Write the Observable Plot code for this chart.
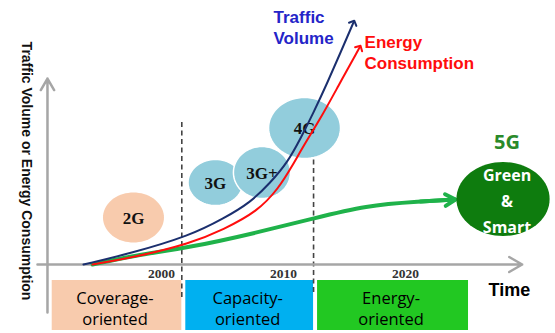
<!DOCTYPE html>
<html>
<head>
<meta charset="utf-8">
<script src="https://cdn.jsdelivr.net/npm/d3@7"></script>
<script src="https://cdn.jsdelivr.net/npm/@observablehq/plot@0.6"></script>
<style>
  html, body { margin: 0; padding: 0; background: #fff; }
  #chart svg { display: block; }
</style>
</head>
<body>
<div id="chart"></div>
<script>
// Growth of mobile traffic and energy use across network generations.

// Traffic volume curve (year, relative level)
const trafficYear  = [1993.44, 1997.30, 2002.21, 2004.92, 2007.13, 2008.77, 2010.16, 2011.23, 2012.30, 2013.44, 2014.51, 2015.57];
const trafficLevel = [0, 5.5, 14.5, 23, 31, 41, 51, 63, 76, 91, 106, 121];

// Energy consumption curve
const energyYear  = [1994.18, 1997.54, 2002.21, 2004.92, 2007.70, 2009.43, 2010.57, 2011.64, 2012.87, 2014.26, 2016.07];
const energyLevel = [0, 3.5, 10.5, 17.5, 26.5, 38, 49.5, 61, 73, 88.5, 108.5];

// Green (5G) energy path
const greenYear  = [1994.18, 1997.54, 2002.21, 2007.70, 2012.30, 2016.56, 2021.07, 2023.93];
const greenLevel = [0, 4.5, 8.5, 16, 23, 29.5, 31.5, 32.5];

// Network generations: centre (year, level) and half-extent (years, level)
const generations  = ["2G", "3G", "3G+", "4G"];
const genYear      = [1997.54, 2004.26, 2008.07, 2011.56];
const genLevel     = [23.5, 41, 46, 68.25];
const genSpanYears = [2.5, 2.25, 2.34, 2.95];
const genSpanLevel = [12.5, 11.5, 13, 15.25];

const nextGen = "5G";
const nextGenText = "Green\n&\nSmart";
const nextGenYear = 2027.83, nextGenLevel = 32.75, nextGenSpanYears = 3.82, nextGenSpanLevel = 18.5;

// Eras along the time axis
const eraNames = ["Coverage-\noriented", "Capacity-\noriented", "Energy-\noriented"];
const eraStart = [1990.55, 2001.5, 2012.3];
const eraEnd   = [2001.5, 2012.3, 2025.0];

const tickYears = [2000, 2010, 2020];

// ---- styling ----
const eraFill = ["#F8CBAD", "#00B0F0", "#22C822"];
const genFill = {"2G": "#F8CBAD", "3G": "#92CDDC", "3G+": "#92CDDC", "4G": "#92CDDC"};
const navy = "#1B2F6E", red = "#FF0D0D", green = "#1FB24A", darkGreen = "#0E7C0E";
const axisGray = "#A6A6A6";

// ---- derived tables ----
const eras = eraNames.map((name, i) => ({name, start: eraStart[i], end: eraEnd[i], fill: eraFill[i]}));
const series = (xs, ys) => xs.map((x, i) => ({year: x, level: ys[i]}));
const traffic = series(trafficYear, trafficLevel);
const energy  = series(energyYear, energyLevel);
const greenPath = series(greenYear, greenLevel);

const bubbles = generations.map((gen, i) => ({
  gen, year: genYear[i], level: genLevel[i], rx: genSpanYears[i], ry: genSpanLevel[i], fill: genFill[gen]
}));

// Outline of an ellipse in data space, for a filled closed line
function outline(b) {
  return d3.range(72).map(k => {
    const t = (2 * Math.PI * k) / 72;
    return {key: b.gen, fill: b.fill, year: b.year + b.rx * Math.cos(t), level: b.level + b.ry * Math.sin(t)};
  });
}
const nextBubble = {gen: nextGen, year: nextGenYear, level: nextGenLevel, rx: nextGenSpanYears, ry: nextGenSpanLevel, fill: darkGreen};

const sans = "Liberation Sans, Arial, sans-serif";
const serif = "Liberation Serif, Times New Roman, serif";
const soft = "Open Sans, Lato, sans-serif";

const last = greenPath.length - 1;

const chart = Plot.plot({
  width: 555,
  height: 333,
  margin: 0,
  x: {domain: [1986.64, 2032.13], axis: null},
  y: {domain: [-34.5, 132], axis: null},
  color: {type: "identity"},
  style: {background: "white", overflow: "visible"},
  marks: [
    // era bands below the time axis
    Plot.rect(eras, {x1: "start", x2: "end", y1: -8, y2: -33, fill: "fill", insetLeft: 4}),
    Plot.text(eras, {
      x: d => (d.start + d.end) / 2, y: -20.5, text: "name", dy: 2,
      fontFamily: soft, fontSize: 16.5, lineHeight: 1.3, fill: "#000"
    }),

    // era boundaries
    Plot.ruleX([eraEnd[0]], {y1: -16.5, y2: 71, stroke: "#444", strokeWidth: 1.6, strokeDasharray: "5,3.5"}),
    Plot.ruleX([eraEnd[1]], {y1: -14, y2: 53, stroke: "#444", strokeWidth: 1.6, strokeDasharray: "5,3.5"}),

    // axes
    Plot.arrow([0], {x1: 1989.67, x2: 2029.4, y1: 0, y2: 0, stroke: axisGray, strokeWidth: 2.5, headLength: 9}),
    Plot.arrow([0], {x1: 1990.49, x2: 1990.49, y1: -24, y2: 93, stroke: axisGray, strokeWidth: 2.5, headLength: 8}),

    Plot.text(tickYears, {
      x: d => d, y: 0, text: d => String(d), dy: 9, dx: -2,
      fontFamily: serif, fontWeight: "bold", fontSize: 13.5, fill: "#333"
    }),

    // generation bubbles
    Plot.line(bubbles.filter(b => b.gen === "2G").flatMap(outline), {
      x: "year", y: "level", z: "key", fill: genFill["2G"], stroke: "none", curve: "linear-closed"
    }),
    Plot.line(bubbles.filter(b => b.gen !== "2G").flatMap(outline), {
      x: "year", y: "level", z: "key", fill: genFill["3G"], stroke: "white", strokeWidth: 1.5, curve: "linear-closed"
    }),
    Plot.text(bubbles, {
      x: "year", y: "level", text: "gen", dy: 1,
      fontFamily: serif, fontWeight: "bold", fontSize: 17, fill: "#111"
    }),

    // growth curves
    Plot.line(greenPath, {x: "year", y: "level", stroke: green, strokeWidth: 4, curve: "basis"}),
    Plot.arrow([0], {
      x1: greenPath[last - 1].year, y1: greenPath[last - 1].level,
      x2: greenPath[last].year, y2: greenPath[last].level,
      stroke: green, strokeWidth: 4, headLength: 17
    }),
    Plot.line(energy, {x: "year", y: "level", stroke: red, strokeWidth: 2, curve: "basis", markerEnd: "arrow"}),
    Plot.line(traffic, {x: "year", y: "level", stroke: navy, strokeWidth: 2, curve: "basis", markerEnd: "arrow"}),

    // 5G bubble
    Plot.line(outline(nextBubble), {x: "year", y: "level", fill: darkGreen, stroke: "none", curve: "linear-closed"}),
    Plot.text([nextBubble], {
      x: "year", y: "level", text: () => nextGenText, dx: 4,
      fontFamily: soft, fontWeight: "bold", fontSize: 16, lineHeight: 1.62, fill: "white"
    }),
    Plot.text([nextBubble], {
      x: "year", y: "level", text: "gen", dx: 4, dy: -56,
      fontFamily: soft, fontWeight: "bold", fontSize: 20, fill: "#2A8A2A"
    }),

    // series labels
    Plot.text([0], {
      x: 2009.02, y: 119.1, text: () => "Traffic\nVolume", textAnchor: "start",
      fontFamily: sans, fontWeight: "bold", fontSize: 17, lineHeight: 1.24, fill: "#2424C8"
    }),
    Plot.text([0], {
      x: 2016.48, y: 106.5, text: () => "Energy\nConsumption", textAnchor: "start",
      fontFamily: sans, fontWeight: "bold", fontSize: 17, lineHeight: 1.22, fill: red
    }),

    // axis titles
    Plot.text([0], {
      x: 2026.64, y: -13.1, text: () => "Time", textAnchor: "start",
      fontFamily: sans, fontWeight: "bold", fontSize: 18, fill: "#000"
    }),
    Plot.text([0], {
      frameAnchor: "left", textAnchor: "middle", dx: 26, dy: 4, rotate: 90,
      text: () => "Traffic Volume or Energy Consumption",
      fontFamily: sans, fontWeight: "bold", fontSize: 14, fill: "#111"
    })
  ]
});

document.getElementById("chart").append(chart);
</script>
</body>
</html>
